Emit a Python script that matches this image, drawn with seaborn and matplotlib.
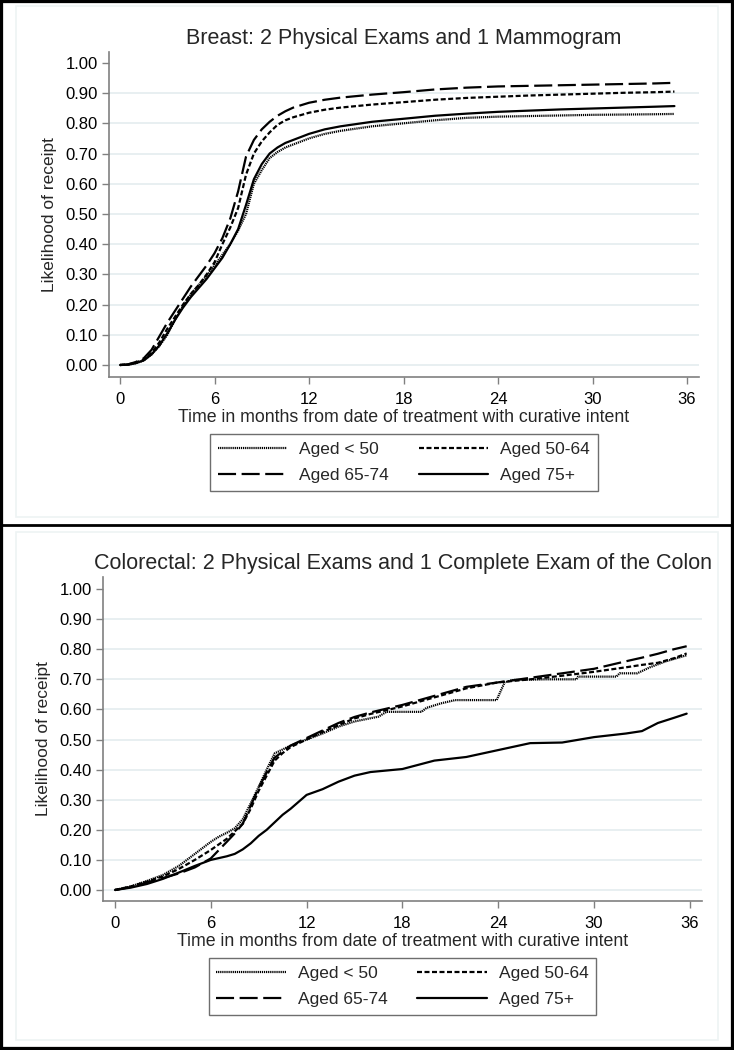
"""
plot.py
-------
Cumulative likelihood of receipt of surveillance care, by age group.
Two stacked panels: breast and colorectal cohorts.
"""

import matplotlib
matplotlib.use("Agg")
import matplotlib.pyplot as plt
from matplotlib.lines import Line2D
from matplotlib.patches import Rectangle
import pandas as pd
import seaborn as sns

# ── Data ──────────────────────────────────────────────────────────────────────

AGE_GROUPS = ["Aged < 50", "Aged 50-64", "Aged 65-74", "Aged 75+"]

BREAST_TITLE = "Breast: 2 Physical Exams and 1 Mammogram"
BREAST_MONTHS = [0, 0.5, 1, 1.5, 2, 2.5, 3, 3.5, 4, 4.5, 5, 5.5, 6, 6.5, 7, 7.5,
                 8, 8.5, 9, 9.5, 10, 10.5, 11, 12, 13, 14, 16, 18, 20, 22, 24,
                 26, 28, 30, 32, 34, 35.2]
BREAST_LT50 = [0, 0.001, 0.006, 0.015, 0.035, 0.063, 0.1, 0.15, 0.195, 0.235,
               0.265, 0.295, 0.33, 0.365, 0.40, 0.445, 0.50, 0.60, 0.645, 0.685,
               0.705, 0.72, 0.73, 0.75, 0.765, 0.775, 0.79, 0.80, 0.81, 0.818,
               0.822, 0.824, 0.826, 0.828, 0.829, 0.83, 0.831]
BREAST_50_64 = [0, 0.002, 0.008, 0.018, 0.04, 0.075, 0.12, 0.16, 0.2, 0.235,
                0.265, 0.30, 0.34, 0.40, 0.455, 0.52, 0.63, 0.70, 0.74, 0.77,
                0.795, 0.81, 0.82, 0.835, 0.845, 0.852, 0.862, 0.87, 0.878,
                0.884, 0.888, 0.892, 0.895, 0.898, 0.901, 0.903, 0.905]
BREAST_65_74 = [0, 0.002, 0.01, 0.022, 0.05, 0.095, 0.14, 0.18, 0.22, 0.26,
                0.295, 0.33, 0.37, 0.42, 0.485, 0.575, 0.69, 0.745, 0.78, 0.805,
                0.825, 0.84, 0.852, 0.868, 0.878, 0.885, 0.895, 0.903, 0.912,
                0.918, 0.922, 0.924, 0.926, 0.928, 0.93, 0.932, 0.934]
BREAST_75P = [0, 0.001, 0.006, 0.015, 0.035, 0.065, 0.105, 0.15, 0.19, 0.225,
              0.255, 0.285, 0.32, 0.355, 0.40, 0.45, 0.53, 0.615, 0.665, 0.70,
              0.72, 0.735, 0.745, 0.765, 0.78, 0.79, 0.805, 0.815, 0.825, 0.832,
              0.838, 0.842, 0.846, 0.849, 0.852, 0.855, 0.857]

COLON_TITLE = "Colorectal: 2 Physical Exams and 1 Complete Exam of the Colon"
COLON_MONTHS = [0, 1, 2, 3, 4, 5, 6, 7, 7.5, 8, 8.5, 9, 9.5, 10, 10.5, 11, 12,
                13, 14, 15, 16, 18, 20, 22, 24, 26, 28, 30, 32, 33, 34, 35, 35.8]
COLON_50_64 = [0, 0.012, 0.028, 0.045, 0.07, 0.1, 0.133, 0.17, 0.195, 0.22,
               0.27, 0.33, 0.38, 0.43, 0.455, 0.475, 0.50, 0.525, 0.548, 0.57,
               0.585, 0.61, 0.64, 0.67, 0.69, 0.70, 0.712, 0.725, 0.74, 0.748,
               0.755, 0.77, 0.786]
COLON_65_74 = [0, 0.01, 0.025, 0.04, 0.055, 0.075, 0.105, 0.16, 0.188, 0.22,
               0.28, 0.34, 0.39, 0.44, 0.46, 0.48, 0.505, 0.53, 0.555, 0.575,
               0.59, 0.615, 0.645, 0.675, 0.69, 0.705, 0.72, 0.735, 0.76, 0.772,
               0.785, 0.80, 0.81]
COLON_75P = [0, 0.008, 0.02, 0.037, 0.058, 0.08, 0.10, 0.112, 0.12, 0.135,
             0.155, 0.18, 0.2, 0.225, 0.25, 0.27, 0.316, 0.335, 0.36, 0.38,
             0.392, 0.402, 0.43, 0.442, 0.465, 0.488, 0.49, 0.508, 0.52, 0.528,
             0.555, 0.572, 0.586]
# youngest group has few patients -> visibly stepped, so it gets its own times
COLON_LT50_MONTHS = [0, 1, 2, 3, 4, 5, 6, 6.5, 7, 7.5, 8, 8.5, 9, 9.5, 10, 11,
                     12, 13, 14, 15, 16.5, 17, 19.2, 19.5, 20.4, 21.3, 23.9,
                     24.4, 25, 27, 28.9, 29, 31.4, 31.6, 32.7, 33.5, 34.5, 35.8]
COLON_LT50 = [0, 0.012, 0.03, 0.05, 0.08, 0.12, 0.16, 0.177, 0.19, 0.205,
              0.235, 0.288, 0.343, 0.40, 0.454, 0.48, 0.50, 0.52, 0.543, 0.56,
              0.576, 0.592, 0.592, 0.605, 0.62, 0.631, 0.631, 0.69, 0.698,
              0.70, 0.70, 0.709, 0.709, 0.72, 0.72, 0.74, 0.76, 0.78]

X_TICKS = [0, 6, 12, 18, 24, 30, 36]
Y_TICKS = [0.0, 0.1, 0.2, 0.3, 0.4, 0.5, 0.6, 0.7, 0.8, 0.9, 1.0]
X_LABEL = "Time in months from date of treatment with curative intent"
Y_LABEL = "Likelihood of receipt"

# ── Style ─────────────────────────────────────────────────────────────────────

sns.set_theme(style="white")
plt.rcParams["font.family"] = ["Liberation Sans", "DejaVu Sans"]
plt.rcParams["lines.scale_dashes"] = False

LINE_STYLES = {
    "Aged < 50": (0, (0.9, 0.6)),
    "Aged 50-64": (0, (3.6, 1.8)),
    "Aged 65-74": (0, (13, 4)),
    "Aged 75+": "-",
}
AXIS_GREY = "#808080"
GRID_COL = "#E1EBED"
LW = 1.6


def build_frame(months_by_group, values_by_group):
    rows = []
    for grp in AGE_GROUPS:
        for t, v in zip(months_by_group[grp], values_by_group[grp]):
            rows.append({"month": t, "likelihood": v, "group": grp})
    return pd.DataFrame(rows)


def draw_panel(ax, df, title, xlim, ylim, legend_y):
    for grp in AGE_GROUPS:
        sub = df[df["group"] == grp]
        sns.lineplot(data=sub, x="month", y="likelihood", ax=ax, color="black",
                     linewidth=LW, linestyle=LINE_STYLES[grp], estimator=None,
                     sort=False, legend=False)

    ax.set_xlim(*xlim)
    ax.set_ylim(*ylim)
    ax.set_xticks(X_TICKS)
    ax.set_yticks(Y_TICKS)
    ax.set_yticklabels([f"{v:.2f}" for v in Y_TICKS])

    ax.grid(axis="y", color=GRID_COL, linewidth=1.1)
    ax.get_ygridlines()[-1].set_visible(False)
    ax.set_axisbelow(True)

    sns.despine(ax=ax)
    for side in ("left", "bottom"):
        ax.spines[side].set_color(AXIS_GREY)
        ax.spines[side].set_linewidth(1.2)

    ax.tick_params(axis="both", colors=AXIS_GREY, labelcolor="black",
                   labelsize=12, length=5, width=1.0, direction="out")
    ax.tick_params(axis="x", pad=6, bottom=True)
    ax.tick_params(axis="y", pad=3, left=True)

    ax.set_xlabel(X_LABEL, fontsize=12.8, labelpad=1)
    ax.set_ylabel(Y_LABEL, fontsize=12.5, labelpad=6)
    ax.set_title(title, fontsize=15.5, pad=6)

    order = ["Aged < 50", "Aged 65-74", "Aged 50-64", "Aged 75+"]
    handles = [Line2D([], [], color="black", linewidth=LW,
                      linestyle=LINE_STYLES[g]) for g in order]
    leg = ax.legend(handles, order, loc="upper center",
                    bbox_to_anchor=(0.5, legend_y), ncol=2, fontsize=12.5,
                    frameon=True, fancybox=False, framealpha=1,
                    edgecolor="#6e6e6e", handlelength=4.0, handletextpad=0.7,
                    columnspacing=1.7, labelspacing=0.65, borderpad=0.45,
                    borderaxespad=0)
    leg.get_frame().set_linewidth(1.0)


# ── Figure ────────────────────────────────────────────────────────────────────

fig = plt.figure(figsize=(7.34, 10.5), dpi=100)
fig.patch.set_facecolor("white")

ax_top = fig.add_axes([109 / 734, 1 - 377 / 1050, 590 / 734, 325 / 1050])
ax_bot = fig.add_axes([103 / 734, 1 - 901 / 1050, 599 / 734, 324 / 1050])

breast = build_frame(
    {g: BREAST_MONTHS for g in AGE_GROUPS},
    dict(zip(AGE_GROUPS, [BREAST_LT50, BREAST_50_64, BREAST_65_74, BREAST_75P])),
)
colon = build_frame(
    dict(zip(AGE_GROUPS, [COLON_LT50_MONTHS, COLON_MONTHS, COLON_MONTHS, COLON_MONTHS])),
    dict(zip(AGE_GROUPS, [COLON_LT50, COLON_50_64, COLON_65_74, COLON_75P])),
)

draw_panel(ax_top, breast, BREAST_TITLE, (-0.7, 36.76), (-0.0397, 1.036), -0.175)
draw_panel(ax_bot, colon, COLON_TITLE, (-0.75, 36.76), (-0.0365, 1.04), -0.176)

# faint inner graph regions, black divider and outer border (Stata-style frame)
for x0, y0, x1, y1 in [(16, 6, 718, 517), (16, 532, 718, 1040)]:
    fig.patches.append(Rectangle((x0 / 734, 1 - y1 / 1050), (x1 - x0) / 734,
                                 (y1 - y0) / 1050, transform=fig.transFigure,
                                 fill=False, edgecolor="#EEF3F4", linewidth=1.2))
fig.add_artist(Line2D([0, 1], [1 - 525 / 1050] * 2, transform=fig.transFigure,
                      color="black", linewidth=2.0))
fig.patches.append(Rectangle((0, 0), 1, 1, transform=fig.transFigure,
                             fill=False, edgecolor="black", linewidth=4.5))

fig.savefig("out.png", dpi=100)
